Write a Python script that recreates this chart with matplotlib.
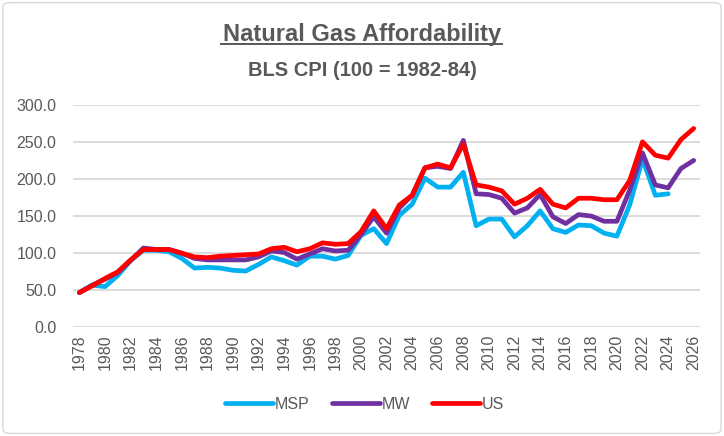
import matplotlib
matplotlib.use("Agg")
import matplotlib.pyplot as plt
from matplotlib.patches import FancyBboxPatch

years = list(range(1978, 2027))

msp = [47, 57, 55, 70, 90, 104, 104, 102, 93, 80, 81, 80, 77, 76, 85, 95, 90, 84,
       96, 96, 92, 97, 124, 133, 113, 151, 166, 201, 189, 189, 209, 137, 146, 146,
       122, 137, 157, 133, 128, 138, 137, 127, 123, 165, 227, 178, 180]
mw = [47, 57, 65, 74, 90, 107, 105, 105, 100, 93, 91, 91, 91, 91, 95, 103, 101, 92,
      99, 106, 103, 104, 125, 149, 127, 161, 178, 215, 217, 214, 252, 180, 179, 174,
      154, 161, 179, 149, 140, 152, 150, 143, 143, 185, 235, 192, 188, 214, 225]
us = [47, 56, 66, 75, 91, 105, 105, 105, 100, 95, 94, 96, 97, 98, 99, 106, 108, 102,
      106, 114, 112, 113, 129, 157, 133, 165, 178, 215, 220, 215, 247, 192, 189, 184,
      166, 174, 186, 166, 161, 174, 174, 172, 172, 198, 250, 232, 228, 253, 268]

series = [("MSP", msp, "#00B0F0"), ("MW", mw, "#7030A0"), ("US", us, "#FF0000")]

plt.rcParams['font.family'] = ['Liberation Sans', 'DejaVu Sans']
gray = "#595959"

fig = plt.figure(figsize=(7.24, 4.36), dpi=100)
ax = fig.add_axes([0.1008, 0.2489, 0.8662, 0.511])

for name, vals, color in series:
    ax.plot(years[:len(vals)], vals, color=color, lw=3.4, label=name,
            solid_capstyle='round', solid_joinstyle='round')

ax.set_xlim(1977.5, 2026.5)
ax.set_ylim(0, 300)
ax.set_yticks(range(0, 301, 50))
ax.set_yticklabels([f"{v:.1f}" for v in range(0, 301, 50)])
ax.set_xticks(years[::2])
ax.set_xticklabels([str(y) for y in years[::2]], rotation=90)
ax.tick_params(axis='both', length=0, labelsize=11.5, labelcolor=gray)
ax.tick_params(axis='y', pad=12)
ax.tick_params(axis='x', pad=5)
ax.grid(axis='y', color="#D9D9D9", lw=1.3)
ax.set_axisbelow(True)
for s in ax.spines.values():
    s.set_visible(False)

fig.text(0.5, 0.906, "Natural Gas Affordability", ha='center', va='baseline',
         fontsize=17, fontweight='bold', color=gray)
fig.add_artist(plt.Line2D([0.305, 0.694], [0.899, 0.899], color=gray, lw=1.4))
fig.text(0.5, 0.826, "BLS CPI (100 = 1982-84)", ha='center', va='baseline',
         fontsize=14.5, fontweight='bold', color=gray)

fig.legend(loc='center', bbox_to_anchor=(0.504, 0.073), ncol=3, frameon=False,
           fontsize=11.5, handlelength=3.0, handletextpad=0.1, columnspacing=1.4,
           labelcolor=gray)

fig.add_artist(FancyBboxPatch((0.004, 0.006), 0.992, 0.988,
                              boxstyle="round,pad=0,rounding_size=0.01",
                              transform=fig.transFigure, fill=False,
                              ec="#D9D9D9", lw=1.0))

fig.savefig("out.png", dpi=100)
